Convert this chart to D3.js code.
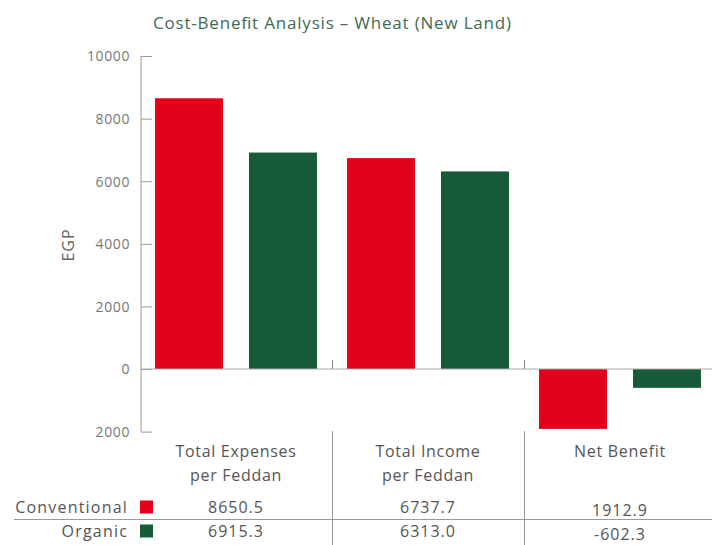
<!DOCTYPE html>
<html><head><meta charset="utf-8">
<script src="https://cdn.jsdelivr.net/npm/d3@7"></script>
<style>body{margin:0;background:#fff}svg{display:block}text{font-family:"Open Sans","Noto Sans",sans-serif}</style>
</head><body>
<svg id="c" width="712" height="545"></svg>
<script>
const categories = ["Total Expenses\nper Feddan", "Total Income\nper Feddan", "Net Benefit"];
const seriesNames = ["Conventional", "Organic"];
const conventional = [8650.5, 6737.7, -1912.9];
const organic = [6915.3, 6313.0, -602.3];
const conventionalLabels = ["8650.5", "6737.7", "1912.9"];
const organicLabels = ["6915.3", "6313.0", "-602.3"];
const yTicks = [10000, 8000, 6000, 4000, 2000, 0, -2000];
const yTickLabels = ["10000", "8000", "6000", "4000", "2000", "0", "2000"];
const colors = ["#e2001a", "#175c38"];

const svg = d3.select("#c");
const x0 = d3.scaleBand().domain(categories).range([140, 716]).paddingInner(0).paddingOuter(0);
const x1 = d3.scaleBand().domain(seriesNames).range([0, x0.bandwidth()]).paddingInner(0.277).paddingOuter(0.16);
const y = d3.scaleLinear().domain([-2000, 10000]).range([431.6, 56]);
const color = d3.scaleOrdinal().domain(seriesNames).range(colors);

// title
svg.append("text").attr("x", 332).attr("y", 29).attr("text-anchor", "middle")
  .attr("font-size", 17).attr("font-weight", 500).attr("fill", "#3d6b55")
  .attr("textLength", 358).attr("lengthAdjust", "spacing")
  .text("Cost-Benefit Analysis – Wheat (New Land)");

// y axis
const yAxis = d3.axisLeft(y).tickValues(yTicks).tickSize(-11).tickPadding(11)
  .tickFormat((d, i) => yTickLabels[i]);
const gy = svg.append("g").attr("transform", "translate(141,0)").call(yAxis);
gy.select(".domain").attr("stroke", "#999").attr("d", "M0," + y(10000) + "V" + y(-2000));
gy.selectAll(".tick line").attr("stroke", "#999");
gy.selectAll(".tick text").attr("fill", "#777").attr("font-size", 14)
  .attr("letter-spacing", "0.6px").attr("font-family", "'Open Sans', sans-serif").attr("dy", "0.35em");

svg.append("text").attr("transform", "translate(74,245) rotate(-90)")
  .attr("text-anchor", "middle").attr("font-size", 16).attr("letter-spacing", "1px")
  .attr("fill", "#666").text("EGP");

// bars
const data = categories.map((c, i) => ({ cat: c, vals: [
  { s: seriesNames[0], v: conventional[i] }, { s: seriesNames[1], v: organic[i] }] }));
const groups = svg.append("g").selectAll("g").data(data).join("g")
  .attr("transform", d => `translate(${x0(d.cat)},0)`);
groups.selectAll("rect").data(d => d.vals).join("rect")
  .attr("x", d => x1(d.s)).attr("width", x1.bandwidth())
  .attr("y", d => y(Math.max(0, d.v))).attr("height", d => Math.abs(y(d.v) - y(0)))
  .attr("fill", d => color(d.s));

// zero line
svg.append("line").attr("x1", 141).attr("x2", 712).attr("y1", y(0)).attr("y2", y(0))
  .attr("stroke", "#aaa").attr("stroke-width", 1);
// category boundary ticks and table dividers
categories.slice(1).forEach(c => {
  const bx = Math.round(x0(c)) + 0.5;
  svg.append("line").attr("x1", bx).attr("x2", bx).attr("y1", y(0) - 9).attr("y2", y(0))
    .attr("stroke", "#888");
  svg.append("line").attr("x1", bx).attr("x2", bx).attr("y1", 431).attr("y2", 545)
    .attr("stroke", "#999");
});

// category headers
categories.forEach(c => {
  const cx = x0(c) + x0.bandwidth() / 2;
  const t = svg.append("text").attr("text-anchor", "middle").attr("font-size", 16)
    .attr("letter-spacing", "0.7px").attr("fill", "#555");
  c.split("\n").forEach((ln, j) => t.append("tspan").attr("x", cx).attr("y", 457 + j * 24).text(ln));
});

// table row line
svg.append("line").attr("x1", 14).attr("x2", 712).attr("y1", 519.5).attr("y2", 519.5).attr("stroke", "#999");

// legend rows
const rowY = [507, 531];
[conventionalLabels, organicLabels].forEach((labels, r) => {
  svg.append("text").attr("x", 128).attr("y", rowY[r]).attr("dy", "0.35em").attr("text-anchor", "end")
    .attr("font-size", 16).attr("letter-spacing", "1.2px").attr("fill", "#555").text(seriesNames[r]);
  svg.append("rect").attr("x", 140).attr("y", rowY[r] - 6.5).attr("width", 13).attr("height", 13)
    .attr("fill", colors[r]);
  labels.forEach((lab, i) => {
    svg.append("text").attr("x", x0(categories[i]) + x0.bandwidth() / 2)
      .attr("y", rowY[r] + (i === 2 ? 3 : 0)).attr("dy", "0.35em").attr("text-anchor", "middle")
      .attr("font-size", 16).attr("letter-spacing", "1px").attr("fill", "#555").text(lab);
  });
});
</script>
</body></html>
